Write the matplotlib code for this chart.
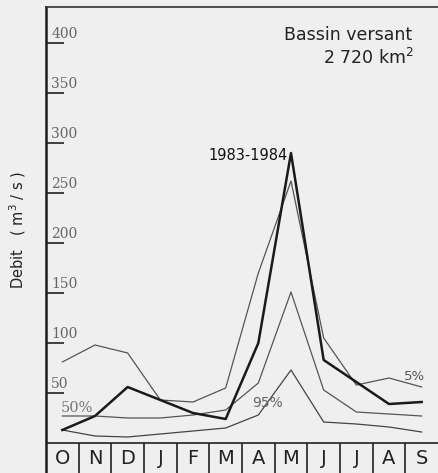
import matplotlib.pyplot as plt

# monthly discharge (m3/s), hydrological year Oct -> Sep
months = ["O", "N", "D", "J", "F", "M", "A", "M", "J", "J", "A", "S"]
q_5 = [81, 98, 90, 43, 41, 55, 170, 262, 105, 58, 65, 56]
q_50 = [27, 27, 25, 25, 28, 33, 60, 151, 53, 31, 29, 27]
q_95 = [13, 7, 6, 9, 12, 15, 28, 73, 21, 19, 16, 11]
q_1983 = [13, 27, 56, 43, 30, 24, 100, 290, 83, 61, 39, 41]
y_ticks = [50, 100, 150, 200, 250, 300, 350, 400]

bg = "#efefef"
fig = plt.figure(figsize=(4.38, 4.73), dpi=100, facecolor=bg)
ax = fig.add_axes([46 / 438, 0, 392 / 438, 466 / 473], facecolor=bg)

x = [i + 0.5 for i in range(len(months))]

# thin curves (frequency lines) and the 1983-84 year
ax.plot(x, q_5, color="#555555", lw=0.9)
ax.plot(x, q_50, color="#555555", lw=0.9)
ax.plot(x, q_95, color="#444444", lw=0.9)
ax.plot(x, q_1983, color="#1a1a1a", lw=1.8)

ax.set_xlim(0, 12)
ax.set_ylim(-30, 436)

# month boxes along the bottom
ax.axhline(0, color="#222222", lw=1.2)
ax.vlines(range(1, 12), -30, 0, color="#222222", lw=1.2)
for xi, m in zip(x, months):
    ax.text(xi, -15, m, ha="center", va="center", fontsize=14, color="#222222")

# ticks drawn inside, labels above them
ax.set_xticks([])
ax.set_yticks(y_ticks)
ax.tick_params(axis="y", direction="in", length=13, width=1.2, color="#222222", labelleft=False)
for v in y_ticks:
    ax.text(0.16, v + 2, str(v), ha="left", va="bottom", fontsize=10,
            family="DejaVu Serif", color="#666666")

ax.spines["right"].set_visible(False)
ax.spines["bottom"].set_visible(False)
ax.spines["top"].set_linewidth(1.2)
ax.spines["top"].set_color("#333333")
ax.spines["left"].set_linewidth(1.8)
ax.spines["left"].set_color("#1a1a1a")

# annotations
ax.text(11.22, 408, "Bassin versant", ha="right", va="center", fontsize=12.5, color="#222222")
ax.text(11.25, 385, "2 720 km$^2$", ha="right", va="center", fontsize=12.5, color="#222222")
ax.text(7.4, 288, "1983-1984", ha="right", va="center", fontsize=10.5, color="#111111")
ax.text(0.45, 35, "50%", ha="left", va="center", fontsize=10.5, family="DejaVu Serif", color="#777777")
ax.text(6.3, 40, "95%", ha="left", va="center", fontsize=10, color="#666666")
ax.text(10.95, 67, "5%", ha="left", va="center", fontsize=9.5, color="#555555")

fig.text(0.041, 0.514, "Debit   ( m$^3$ / s )", rotation=90, ha="center", va="center",
         fontsize=10.5, color="#222222")

fig.savefig("out.png", dpi=100, facecolor=bg)
